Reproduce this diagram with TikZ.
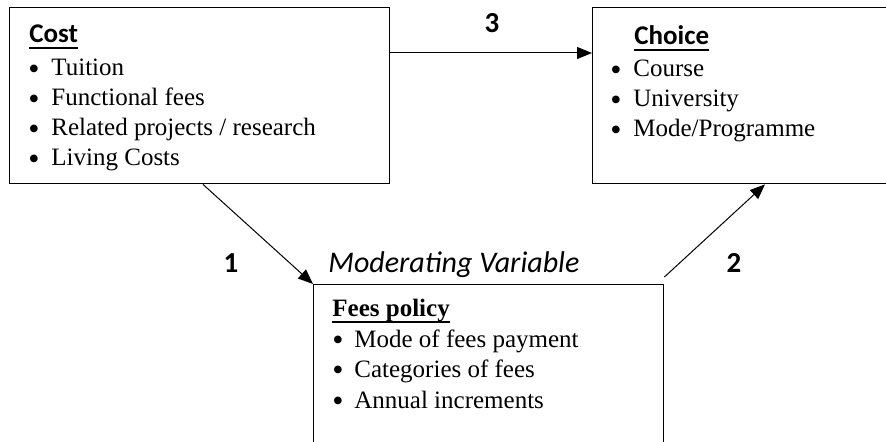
\documentclass[tikz,border=0pt]{standalone}
\usepackage{fontspec}
\setmainfont{Liberation Serif}
\newfontfamily\calib{Carlito}
\usetikzlibrary{arrows.meta,calc}
\newcommand\myul[1]{\setbox0\hbox{#1}\rlap{\rule[-2.8pt]{\wd0}{0.9pt}}\box0}
\newcommand\bul{\raisebox{-1.6pt}[0pt][0pt]{\fontsize{16}{15}\selectfont •}}
\begin{document}
\begin{tikzpicture}[x=0.5pt,y=-0.5pt,
  boxst/.style={draw, line width=0.7pt, inner sep=0pt, anchor=north west},
  txt/.style={anchor=base west, inner sep=0pt, font=\fontsize{12.5}{15}\selectfont},
  head/.style={anchor=base west, inner sep=0pt, font=\calib\bfseries\fontsize{13.5}{15}\selectfont},
  num/.style={anchor=base, inner sep=0pt, font=\calib\bfseries\fontsize{14.5}{16}\selectfont},
  arr/.style={-{Triangle[length=7.5pt,width=6pt]}, line width=0.5pt}]
\clip (0,0) rectangle (886,442);
\fill[white] (0,0) rectangle (886,442);
% boxes
\node[boxst, minimum width=190pt, minimum height=88pt] (cost) at (9,7) {};
\node[boxst, minimum width=156pt, minimum height=88pt] (choice) at (592,7) {};
\node[boxst, minimum width=175pt, minimum height=95pt] (fees) at (313,284) {};
% cost text
\node[head] (costh) at (29,43) {\myul{Cost}};
\node[txt] (c1) at (28,76) {\makebox[11.5pt][l]{\bul}Tuition};
\node[txt] (c2) at (28,106) {\makebox[11.5pt][l]{\bul}Functional fees};
\node[txt] (c3) at (28,136) {\makebox[11.5pt][l]{\bul}Related projects / research};
\node[txt] (c4) at (28,166) {\makebox[11.5pt][l]{\bul}Living Costs};
% choice text
\node[head] (choiceh) at (634,45) {\myul{Choice}};
\node[txt] (h1) at (610,77) {\makebox[11.5pt][l]{\bul}Course};
\node[txt] (h2) at (610,107) {\makebox[11.5pt][l]{\bul}University};
\node[txt] (h3) at (610,137) {\makebox[11.5pt][l]{\bul}Mode/Programme};
% fees text
\node[txt] (feesh) at (332,317) {\bfseries\myul{Fees policy}};
\node[txt] (f1) at (332,347) {\makebox[11pt][l]{\bul}Mode of fees payment};
\node[txt] (f2) at (332,377) {\makebox[11pt][l]{\bul}Categories of fees};
\node[txt] (f3) at (332,408) {\makebox[11pt][l]{\bul}Annual increments};
% labels
\node[anchor=base west, inner sep=0pt, font=\calib\itshape\fontsize{15}{17}\selectfont] (mod) at (328,273) {Moderating Variable};
\node[num] (n3) at (492,33) {3};
\node[num] (n1) at (231,273) {1};
\node[num] (n2) at (734,273) {2};
% connectors
\draw[arr] (cost.east |- 0,53) -- (choice.west |- 0,53);
\draw[arr] (203,0 |- cost.south) -- (fees.north west);
\draw[arr] ($(fees.north east)+(0,-7)$) -- (765,0 |- choice.south);
\end{tikzpicture}
\end{document}
